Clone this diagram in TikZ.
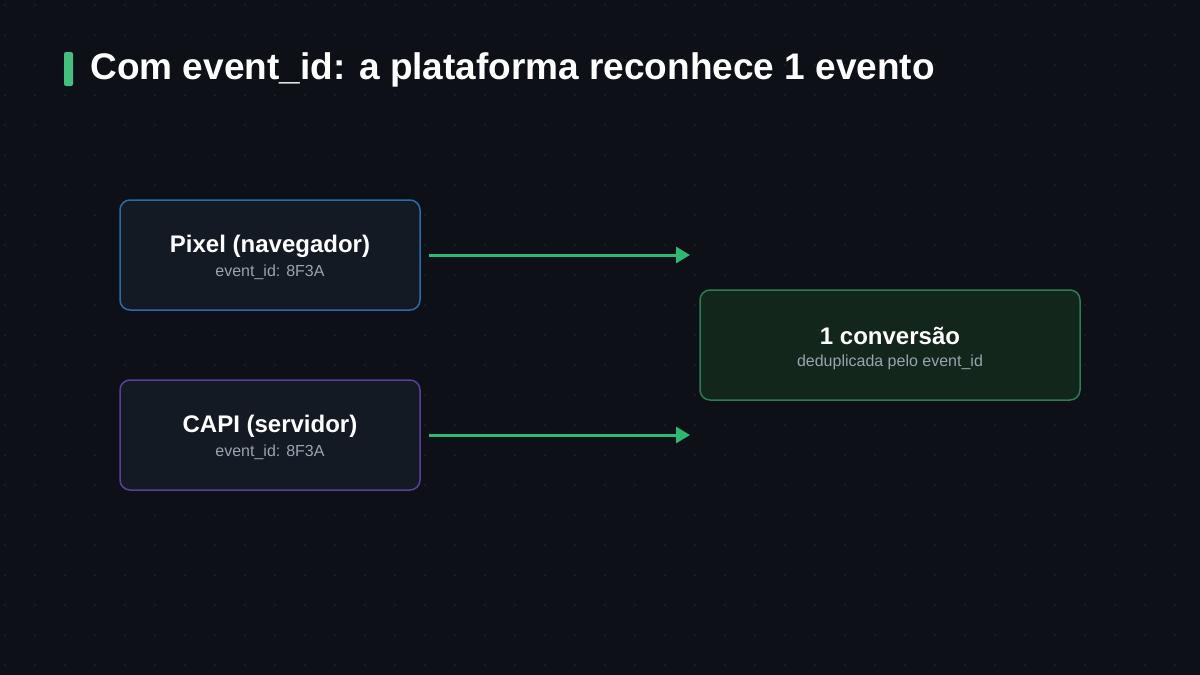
\documentclass[tikz,border=0pt]{standalone}
\usepackage{fontspec}
\setmainfont{Liberation Sans}
\usetikzlibrary{arrows.meta}
\definecolor{bg}{HTML}{0D1117}
\definecolor{boxfill}{HTML}{131A24}
\definecolor{blueb}{HTML}{2F6AA8}
\definecolor{purpb}{HTML}{5B3F9A}
\definecolor{greenb}{HTML}{2F7A55}
\definecolor{greenfill}{HTML}{12261B}
\definecolor{arrowc}{HTML}{2FB872}
\definecolor{subt}{HTML}{9AA3AE}
\definecolor{dotc}{HTML}{1E252E}
\begin{document}
\begin{tikzpicture}[x=1pt,y=-1pt,
  box/.style={draw,line width=1.5pt,rounded corners=10pt,minimum width=300pt,minimum height=110pt},
  ttl/.style={text=white,font=\bfseries\fontsize{24}{29}\selectfont},
  sub/.style={text=subt,font=\fontsize{16}{20}\selectfont},
  arr/.style={draw=arrowc,line width=3pt,-{Triangle[length=14pt,width=16pt]}}]
\fill[bg] (0,0) rectangle (1200,675);
\useasboundingbox (0,0) rectangle (1200,675);
\foreach \i in {0,...,40}{\foreach \j in {0,...,22}{\fill[dotc] (\i*30+5,\j*30+5) circle (1pt);}}
\fill[arrowc!90!white, rounded corners=2pt] (64,52) rectangle (73,86);
\node[anchor=west,text=white,font=\bfseries\fontsize{37}{44}\selectfont] (title) at (87,70) {Com event\_id: a plataforma reconhece 1 evento};
\node[box,draw=blueb,fill=boxfill] (pixel) at (270,255) {};
\node[ttl] (pixelt) at (270,246) {Pixel (navegador)};
\node[sub] (pixels) at (270,272) {event\_id: 8F3A};
\node[box,draw=purpb,fill=boxfill] (capi) at (270,435) {};
\node[ttl] (capit) at (270,426) {CAPI (servidor)};
\node[sub] (capis) at (270,452) {event\_id: 8F3A};
\node[box,draw=greenb,fill=greenfill,minimum width=380pt] (conv) at (890,345) {};
\node[ttl] (convt) at (890,336) {1 conversão};
\node[sub] (convs) at (890,362) {deduplicada pelo event\_id};
\coordinate (e1) at (690,255);
\coordinate (e2) at (690,435);
\draw[arr] ([xshift=8pt]pixel.east) -- (e1);
\draw[arr] ([xshift=8pt]capi.east) -- (e2);
\end{tikzpicture}
\end{document}
